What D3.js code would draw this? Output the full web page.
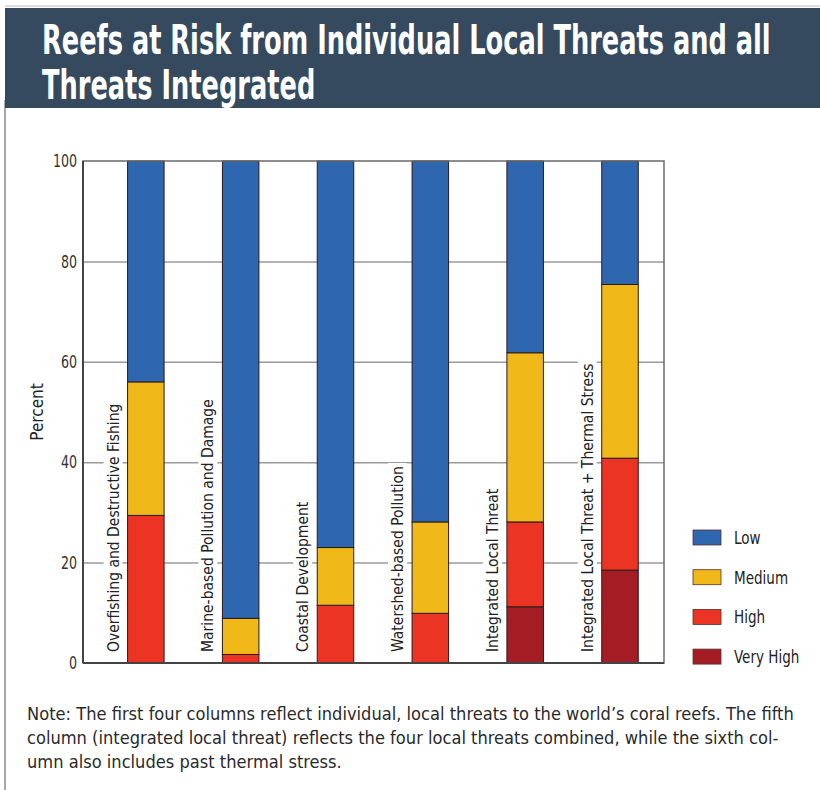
<!DOCTYPE html>
<html>
<head>
<meta charset="utf-8">
<script src="https://cdn.jsdelivr.net/npm/d3@7"></script>
<style>
  body { margin: 0; background: #fff; }
  svg { display: block; }
</style>
</head>
<body>
<div id="chart"></div>
<script>
// chart data
const categories = [
  'Overfishing and Destructive Fishing',
  'Marine-based Pollution and Damage',
  'Coastal Development',
  'Watershed-based Pollution',
  'Integrated Local Threat',
  'Integrated Local Threat + Thermal Stress'
];
const levels = ['Very High', 'High', 'Medium', 'Low'];
const veryHigh = [0, 0, 0, 0, 11.2, 18.5];
const high     = [29.4, 1.7, 11.5, 9.9, 16.9, 22.3];
const medium   = [26.6, 7.2, 11.5, 18.2, 33.7, 34.6];
const low      = [44.0, 91.1, 77.0, 71.9, 38.2, 24.6];
const yTicks = [0, 20, 40, 60, 80, 100];
const legendOrder = ['Low', 'Medium', 'High', 'Very High'];

const colors = {
  'Low': '#2e66b0',
  'Medium': '#f0b819',
  'High': '#ec3424',
  'Very High': '#a41d24'
};

const FONT = "'DejaVu Sans Condensed','Liberation Sans Narrow','Arial Narrow',sans-serif";
const W = 820, H = 790;
const margin = {left: 83, right: 156, top: 161, bottom: 127};
const bandsRight = 652; // the six columns don't fill the frame all the way

const svg = d3.select('#chart').append('svg')
  .attr('width', W)
  .attr('height', H)
  .style('font-family', FONT);

// frame + title banner
svg.append('line')
  .attr('x1', 5).attr('x2', 5).attr('y1', 100).attr('y2', H)
  .attr('stroke', '#8a8a8a').attr('stroke-width', 1.5);
svg.append('line')
  .attr('x1', 5).attr('x2', W).attr('y1', 6).attr('y2', 6)
  .attr('stroke', '#bbb').attr('stroke-width', 1);
svg.append('rect')
  .attr('x', 5).attr('y', 8).attr('width', W - 5).attr('height', 100)
  .attr('fill', '#364a5f');

// squeeze a block of lines horizontally so the first one is targetFirst wide
function squeeze(g, x0, targetFirst) {
  const first = g.select('text').node();
  const k = targetFirst / first.getComputedTextLength();
  g.attr('transform', `translate(${x0},0) scale(${k},1)`);
}

const titleLines = ['Reefs at Risk from Individual Local Threats and all', 'Threats Integrated'];
const titleG = svg.append('g');
titleG.selectAll('text')
  .data(titleLines)
  .join('text')
  .attr('x', 0)
  .attr('y', (d, i) => 54 + i * 45)
  .attr('fill', '#fff')
  .attr('font-size', 41)
  .attr('font-weight', 'bold')
  .text(d => d);
squeeze(titleG, 42, 729);

// scales
const x = d3.scaleBand()
  .domain(categories)
  .range([margin.left, bandsRight]);
const y = d3.scaleLinear()
  .domain([0, 100])
  .range([H - margin.bottom, margin.top]);

const bw = x.bandwidth();
const barOff = bw * 0.47, barW = bw * 0.385;

// gridlines
svg.append('g')
  .attr('transform', `translate(${margin.left},0)`)
  .call(d3.axisLeft(y).tickValues([20, 40, 60, 80]).tickSize(-(W - margin.right - margin.left)).tickFormat(''))
  .call(g => g.select('.domain').remove())
  .call(g => g.selectAll('line').attr('stroke', '#9a9a9a').attr('stroke-width', 1.5));

// category labels (white backing hides the gridlines)
const labelG = svg.append('g');
categories.forEach(c => {
  const base = x(c) + bw * 0.375;   // text baseline, left of the bar
  const t = labelG.append('text')
    .attr('transform', `translate(${base},${y(0) - 11}) rotate(-90)`)
    .attr('font-size', 15.5)
    .attr('fill', '#222')
    .text(c);
  const len = t.node().getComputedTextLength();
  labelG.insert('rect', 'text')
    .attr('x', base - 15)
    .attr('y', y(0) - 11 - len - 3)
    .attr('width', 19)
    .attr('height', len + 6)
    .attr('fill', '#fff');
});

// stacked bars
const rows = categories.map((c, i) => ({
  cat: c,
  'Very High': veryHigh[i],
  'High': high[i],
  'Medium': medium[i],
  'Low': low[i]
}));
const stack = d3.stack().keys(levels)(rows);

svg.append('g')
  .selectAll('g')
  .data(stack)
  .join('g')
  .attr('fill', d => colors[d.key])
  .selectAll('rect')
  .data(d => d.filter(s => s[1] - s[0] > 0))
  .join('rect')
  .attr('x', d => x(d.data.cat) + barOff)
  .attr('width', barW)
  .attr('y', d => y(d[1]))
  .attr('height', d => y(d[0]) - y(d[1]))
  .attr('stroke', '#2a1a1a')
  .attr('stroke-width', 1);

// plot frame
svg.append('rect')
  .attr('x', margin.left).attr('y', margin.top)
  .attr('width', W - margin.right - margin.left)
  .attr('height', y(0) - margin.top)
  .attr('fill', 'none')
  .attr('stroke', '#6a6a6a')
  .attr('stroke-width', 1.5);
svg.append('line')
  .attr('x1', margin.left).attr('x2', W - margin.right)
  .attr('y1', y(0)).attr('y2', y(0))
  .attr('stroke', '#444').attr('stroke-width', 2);
svg.append('line')
  .attr('x1', margin.left).attr('x2', margin.left)
  .attr('y1', margin.top).attr('y2', y(0))
  .attr('stroke', '#444').attr('stroke-width', 2);

// y axis labels, narrowed to match the condensed face
const tickK = 0.78;
svg.append('g')
  .attr('transform', `translate(${margin.left},0)`)
  .call(d3.axisLeft(y).tickValues(yTicks).tickSize(0).tickPadding(6 / tickK))
  .call(g => g.select('.domain').remove())
  .call(g => g.selectAll('text')
    .attr('font-family', FONT)
    .attr('font-size', 18)
    .attr('fill', '#333')
    .attr('transform', `scale(${tickK},1)`));

svg.append('text')
  .attr('transform', `translate(43,${(y(0) + margin.top) / 2}) rotate(-90) scale(0.92,1)`)
  .attr('text-anchor', 'middle')
  .attr('font-size', 18.5)
  .attr('fill', '#222')
  .text('Percent');

// legend
const leg = svg.append('g').attr('transform', 'translate(693,530)');
legendOrder.forEach((k, i) => {
  const row = leg.append('g').attr('transform', `translate(0,${i * 39.7})`);
  row.append('rect')
    .attr('width', 28).attr('height', 15)
    .attr('fill', colors[k])
    .attr('stroke', '#5a3030').attr('stroke-width', 0.8);
  row.append('text')
    .attr('transform', 'translate(41,14) scale(0.86,1)')
    .attr('font-size', 17.5)
    .attr('fill', '#222')
    .text(k);
});

// note
const noteLines = [
  'Note: The first four columns reflect individual, local threats to the world\u2019s coral reefs. The fifth',
  'column (integrated local threat) reflects the four local threats combined, while the sixth col-',
  'umn also includes past thermal stress.'
];
const noteG = svg.append('g');
noteG.selectAll('text')
  .data(noteLines)
  .join('text')
  .attr('x', 0)
  .attr('y', (d, i) => 720 + i * 24)
  .attr('font-size', 18)
  .attr('fill', '#2a2a2a')
  .text(d => d);
squeeze(noteG, 27, 767);
</script>
</body>
</html>
